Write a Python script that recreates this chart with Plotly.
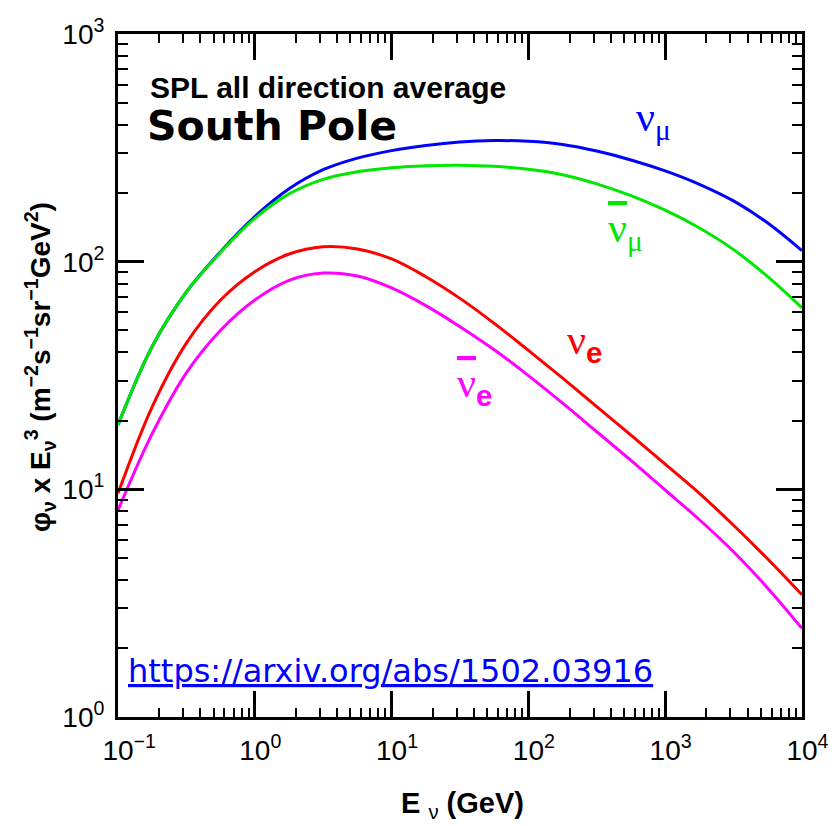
import plotly.graph_objects as go

# Neutrino energy (GeV)
energy = [0.1, 0.178, 0.316, 0.562, 1.0, 1.78, 3.16, 5.62, 10.0, 17.8, 31.6,
          56.2, 100.0, 178.0, 316.0, 562.0, 1000.0, 1780.0, 3160.0, 5620.0, 10000.0]

# phi x E^3  (m^-2 s^-1 sr^-1 GeV^2)
nu_mu = [19.2, 42.5, 73.6, 110.7, 157.8, 208.9, 253.5, 285.1, 307.6, 324.3, 335.7,
         340.4, 338.1, 327.3, 306.2, 279.9, 250.6, 218.8, 184.9, 147.9, 111.9]
nu_mu_bar = [19.2, 42.5, 73.6, 109.9, 154.9, 198.6, 230.1, 248.3, 258.8, 264.2, 265.5,
             262.4, 254.7, 241.0, 219.8, 195.0, 168.3, 140.6, 113.0, 85.9, 62.7]
nu_e = [9.6, 23.1, 43.9, 67.9, 90.4, 108.1, 116.4, 113.8, 102.8, 85.9, 69.0,
        53.6, 40.8, 30.8, 23.1, 17.3, 12.9, 9.6, 6.95, 4.94, 3.44]
nu_e_bar = [8.09, 17.6, 32.5, 50.0, 67.9, 82.8, 89.1, 86.5, 76.7, 64.1, 51.8,
            41.0, 31.6, 23.9, 17.9, 13.4, 9.93, 7.35, 5.32, 3.68, 2.45]

x_ticks = [0.1, 1, 10, 100, 1000, 10000]
x_exps = ["−1", "0", "1", "2", "3", "4"]
y_ticks = [1, 10, 100, 1000]
y_exps = ["0", "1", "2", "3"]

x_minor = [m * 10 ** e for e in range(-1, 4) for m in range(2, 10)]
y_minor = [m * 10 ** e for e in range(0, 3) for m in range(2, 10)]

# x labels: base "10" centred on the tick (hidden copy of the exponent on the left)
x_tick_text = ["<sup><span style='color:rgba(0,0,0,0)'>%s</span></sup>10<sup>%s</sup>" % (e, e)
               for e in x_exps]
y_tick_text = ["10<sup>%s</sup>" % e for e in y_exps]

series = [
    (nu_mu, "#0000ff", "νμ"),
    (nu_mu_bar, "#00e800", "anti-νμ"),
    (nu_e, "#ff0000", "νe"),
    (nu_e_bar, "#ff00ff", "anti-νe"),
]

fig = go.Figure()
for vals, col, name in series:
    fig.add_trace(go.Scatter(x=energy, y=vals, mode="lines", name=name,
                             line=dict(color=col, width=3, shape="spline", smoothing=1.0)))

axis_common = dict(
    type="log", showgrid=False, zeroline=False, automargin=False,
    showline=True, linewidth=3, linecolor="black", mirror="ticks",
    ticks="inside", ticklen=26, tickwidth=2.5, tickcolor="black",
    tickfont=dict(family="Liberation Sans, Arial, sans-serif", size=28, color="black"),
    tickmode="array",
)

fig.update_xaxes(**axis_common, range=[-1.0003, 4.0003], tickvals=x_ticks, ticktext=x_tick_text,
                 ticklabelstandoff=6,
                 minor=dict(tickmode="array", tickvals=x_minor, ticks="inside", ticklen=9,
                            tickwidth=2, tickcolor="black", showgrid=False))
fig.update_yaxes(**axis_common, range=[-0.0003, 3.0003], tickvals=y_ticks, ticktext=y_tick_text,
                 ticklabelstandoff=5,
                 minor=dict(tickmode="array", tickvals=y_minor, ticks="inside", ticklen=10,
                            tickwidth=2, tickcolor="black", showgrid=False))

def px2paper(px, py):
    return (px - 118) / 684, (717 - py) / 683

ann = []
def add(text, px, py, size, color="black", family="Liberation Sans, Arial, sans-serif",
        xanchor="center", angle=0):
    x, y = px2paper(px, py)
    ann.append(dict(text=text, x=x, y=y, xref="paper", yref="paper", showarrow=False,
                    xanchor=xanchor, yanchor="middle", textangle=angle,
                    font=dict(family=family, size=size, color=color)))

add("<b>SPL all direction average</b>", 148, 88, 30, xanchor="left")
add("<b>South Pole</b>", 145, 126, 41, family="DejaVu Sans, sans-serif", xanchor="left")
add("<u>https://arxiv.org/abs/1502.03916</u>", 126, 671, 32, color="#0000ff",
    family="DejaVu Sans, sans-serif", xanchor="left")

greek = "Liberation Serif, Times New Roman, serif"
sans_b = "<span style='font-family:Liberation Sans, Arial, sans-serif'><b>e</b></span>"
add("ν<sub>μ</sub>", 653, 120, 42, color="#0000ff", family=greek)
add("<span style='text-decoration:overline'>ν</span><sub>μ</sub>", 625, 231, 42,
    color="#00e800", family=greek)
add("ν<sub>%s</sub>" % sans_b, 584, 343, 42, color="#ff0000", family=greek)
add("<span style='text-decoration:overline'>ν</span><sub>%s</sub>" % sans_b, 475, 386, 42,
    color="#ff00ff", family=greek)

add("<b>E</b> <sub>ν</sub> <b>(GeV)</b>", 462, 805, 29)
add("<b>φ<sub>ν</sub> x E<sub>ν</sub><sup>3</sup> (m<sup>−2</sup>s<sup>−1</sup>sr<sup>−1</sup>GeV<sup>2</sup>)</b>",
    40, 367, 28, angle=-90)

fig.update_layout(
    width=836, height=826,
    margin=dict(l=118, r=34, t=34, b=109),
    paper_bgcolor="white", plot_bgcolor="white",
    showlegend=False,
    annotations=ann,
)

fig.write_html("out.html")
